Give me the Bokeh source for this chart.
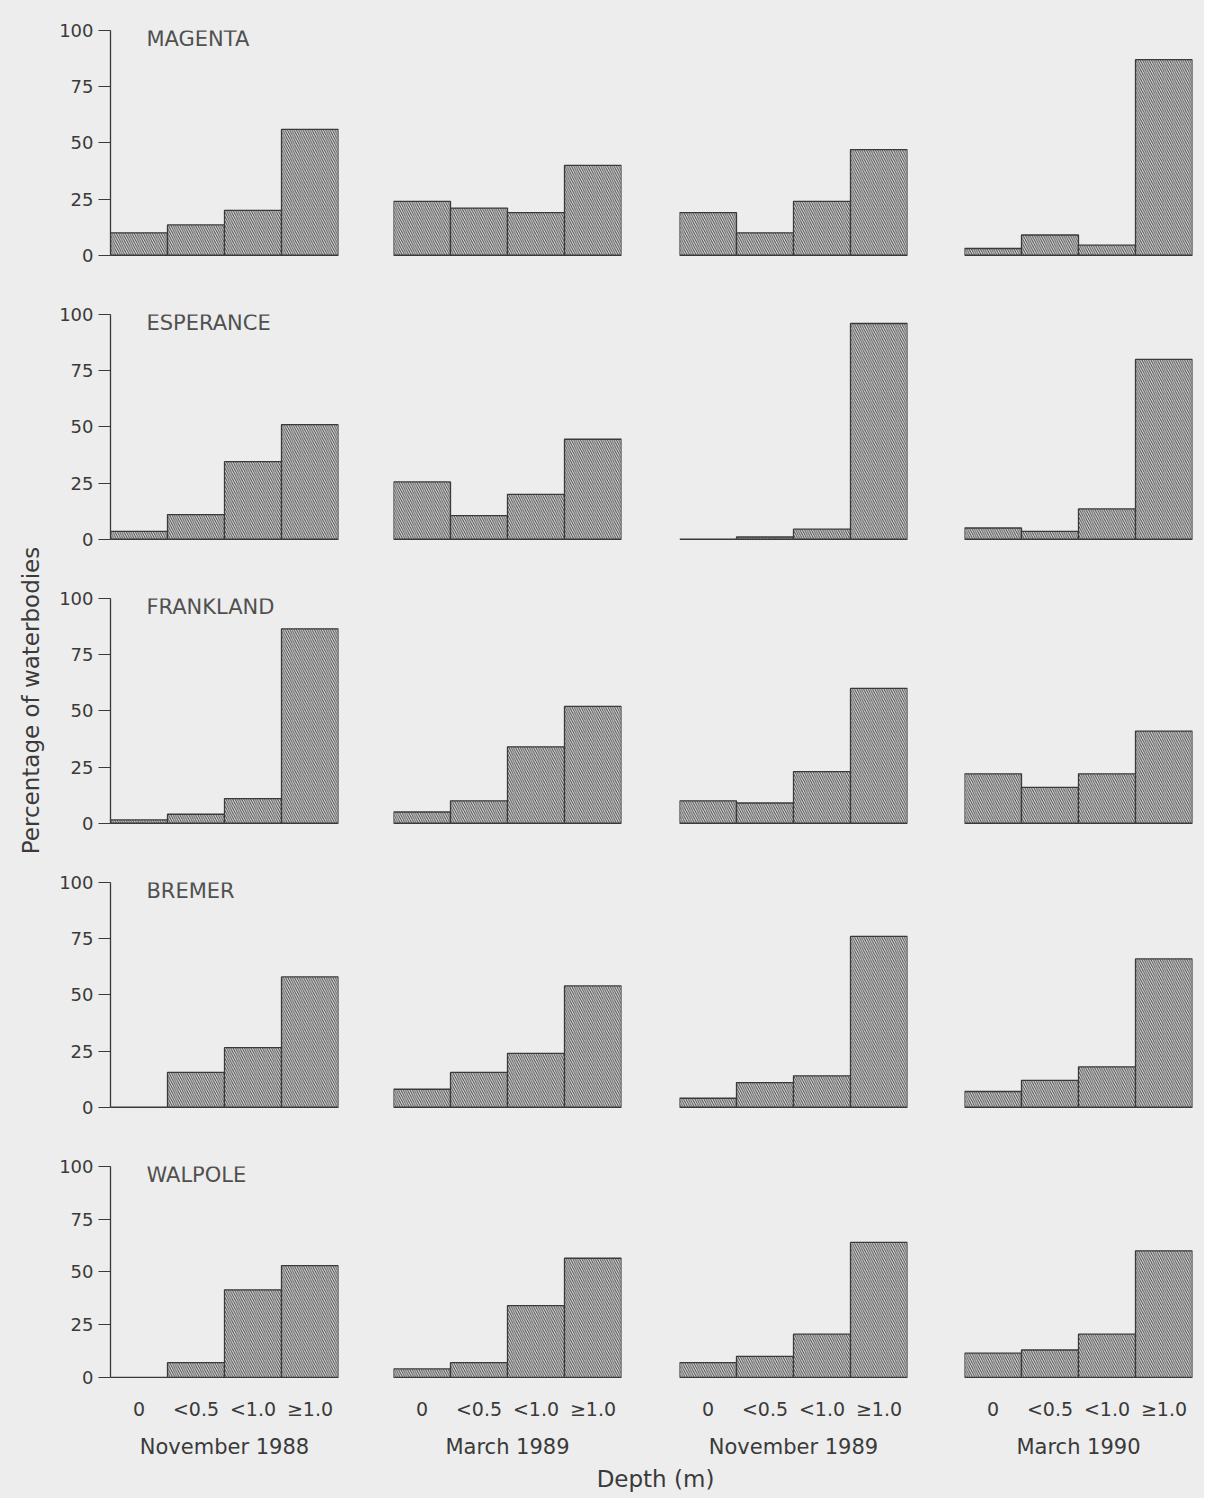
import math
from bokeh.plotting import figure
from bokeh.layouts import gridplot, column, row
from bokeh.models import FactorRange, Range1d, FixedTicker, Label
from bokeh.embed import file_html
from bokeh.resources import INLINE

# ---------------- data ----------------
depth_bins = ["0", "<0.5", "<1.0", "\u22651.0"]
surveys = ["November 1988", "March 1989", "November 1989", "March 1990"]
regions = ["MAGENTA", "ESPERANCE", "FRANKLAND", "BREMER", "WALPOLE"]

# percentage of waterbodies per depth class, one list per survey
magenta = [[10, 13.5, 20, 56], [24, 21, 19, 40], [19, 10, 24, 47], [3, 9, 4.5, 87]]
esperance = [[3.5, 11, 34.5, 51], [25.5, 10.5, 20, 44.5], [0, 1, 4.5, 96], [5, 3.5, 13.5, 80]]
frankland = [[1.5, 4, 11, 86.5], [5, 10, 34, 52], [10, 9, 23, 60], [22, 16, 22, 41]]
bremer = [[0, 15.5, 26.5, 58], [8, 15.5, 24, 54], [4, 11, 14, 76], [7, 12, 18, 66]]
walpole = [[0, 7, 41.5, 53], [4, 7, 34, 56.5], [7, 10, 20.5, 64], [11.5, 13, 20.5, 60]]
region_values = [magenta, esperance, frankland, bremer, walpole]

y_ticks = [0, 25, 50, 75, 100]

# ---------------- style ----------------
FONT = "DejaVu Sans"
BG = "#ededed"
INK = "#3a3a3a"

LABEL_W = 54
lefts = [56, 28, 29, 29]
rights = [27, 29, 28, 12]
FRAME_W = 228
FRAME_H = 227


def style_plain(p):
    p.background_fill_color = BG
    p.border_fill_color = BG
    p.outline_line_color = None
    p.xgrid.visible = False
    p.ygrid.visible = False


rows = []
for r, (name, vals) in enumerate(zip(regions, region_values)):
    row_figs = []
    for c in range(4):
        first = c == 0
        last_row = r == 4
        top = 30 if r == 0 else 22
        bottom = 68 if last_row else 35
        p = figure(
            width=lefts[c] + FRAME_W + rights[c],
            height=top + FRAME_H + bottom,
            x_range=FactorRange(*depth_bins, range_padding=0),
            y_range=Range1d(-1, 100),
            output_backend="svg",
            toolbar_location=None,
            x_axis_location="below" if last_row else None,
            y_axis_location="left" if first else None,
            min_border_left=lefts[c],
            min_border_right=rights[c],
            min_border_top=top,
            min_border_bottom=bottom,
        )
        style_plain(p)

        p.vbar(
            x=depth_bins, top=vals[c], width=1,
            fill_color="#e4e4e4",
            line_color=INK, line_width=1.3,
            hatch_pattern="\\", hatch_color="#474747",
            hatch_scale=4.5, hatch_weight=1,
        )

        if first:
            ax = p.yaxis[0]
            ax.ticker = FixedTicker(ticks=y_ticks)
            ax.bounds = (0, 100)
            ax.axis_line_color = INK
            ax.axis_line_width = 1.3
            ax.major_tick_line_color = INK
            ax.major_tick_line_width = 1.2
            ax.major_tick_out = 12
            ax.major_tick_in = 0
            ax.minor_tick_line_color = None
            ax.major_label_standoff = 5
            ax.major_label_text_font = FONT
            ax.major_label_text_font_size = "18px"
            ax.major_label_text_color = INK
            p.add_layout(Label(
                x=0.63, y=96, text=name, text_baseline="middle",
                text_font=FONT, text_font_size="21px", text_color="#505050",
            ))

        if last_row:
            ax = p.xaxis[0]
            ax.axis_line_color = None
            ax.major_tick_line_color = None
            ax.minor_tick_line_color = None
            ax.major_label_standoff = 12
            ax.major_label_text_font = FONT
            ax.major_label_text_font_size = "19px"
            ax.major_label_text_color = INK
            ax.axis_label = surveys[c]
            ax.axis_label_text_font = FONT
            ax.axis_label_text_font_size = "21px"
            ax.axis_label_text_font_style = "normal"
            ax.axis_label_text_color = INK
            ax.axis_label_standoff = 12
        row_figs.append(p)
    rows.append(row_figs)

grid = gridplot(rows, toolbar_location=None)

grid_h = 30 + 22 * 4 + 5 * FRAME_H + 35 * 4 + 68
grid_w = sum(lefts) + sum(rights) + 4 * FRAME_W
total_w = LABEL_W + grid_w

# vertical axis title, spanning the rows
ylab_fig = figure(
    width=LABEL_W, height=grid_h, x_range=Range1d(0, 1), y_range=Range1d(0, 1),
    output_backend="svg", toolbar_location=None,
    x_axis_location=None, y_axis_location=None,
    min_border_left=0, min_border_right=0, min_border_top=0, min_border_bottom=0,
)
style_plain(ylab_fig)
ylab_fig.add_layout(Label(
    x=30 / LABEL_W, y=(grid_h - 700) / grid_h, text="Percentage of waterbodies",
    angle=math.pi / 2, text_align="center", text_baseline="middle",
    text_font=FONT, text_font_size="23px", text_color=INK,
))

# common x title
DEPTH_H = 37
depth_fig = figure(
    width=total_w, height=DEPTH_H, x_range=Range1d(0, 1), y_range=Range1d(0, 1),
    output_backend="svg", toolbar_location=None,
    x_axis_location=None, y_axis_location=None,
    min_border_left=0, min_border_right=0, min_border_top=0, min_border_bottom=0,
)
style_plain(depth_fig)
depth_fig.add_layout(Label(
    x=655 / total_w, y=(DEPTH_H - 17) / DEPTH_H, text="Depth (m)",
    text_align="center", text_baseline="middle",
    text_font=FONT, text_font_size="23px", text_color=INK,
))

layout = column(row(ylab_fig, grid, spacing=0), depth_fig, spacing=0)
layout.stylesheets = [":host { background-color: %s; }" % BG]
open("out.html", "w").write(file_html(layout, INLINE))
